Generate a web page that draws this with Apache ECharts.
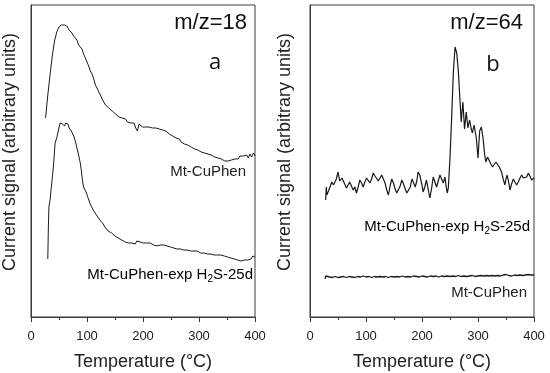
<!DOCTYPE html>
<html>
<head>
<meta charset="utf-8">
<script src="https://cdn.jsdelivr.net/npm/echarts@6/dist/echarts.min.js"></script>
<style>html,body{margin:0;padding:0;background:#fff}#c{width:550px;height:373px}</style>
</head>
<body>
<div id="c"></div>
<script>
// Panel a (m/z=18): Mt-CuPhen
const aTopT = [26,30,34,38,42,46,50,54,57,60,62,64,66,68,70,73,76,79,82,85,88,91,94,97,100,103,106,109,112,115,118,121,124,127,130,133,136,139,142,145,148,151,154,157,160,163,166,169,172,175,178,181,184,187,190,193,196,199,202,205,208,211,214,217,220,223,226,229,232,235,238,241,244,247,250,253,256,259,262,265,268,271,274,277,280,283,286,289,292,295,298,301,304,307,310,313,316,319,322,325,328,331,334,337,340,343,346,349,352,355,358,361,364,367,370,373,376,379,382,385,388,391,394,397,400];
const aTopV = [199,222,242,261,276,285,290,292,294,292,293,291,292,287,286,284,281,279,277,272,270,268,263,259,255,251,246,243,238,232,229,225,222,218,215,212,211,209,208,206,205,203,203,200,199,199,197,198,195,196,194,193,194,189,186,193,191,190,192,190,191,190,192,189,191,189,190,188,189,187,188,186,184,183,184,181,180,179,177,178,175,176,173,174,172,173,170,171,168,169,167,168,165,166,164,165,163,164,162,163,160,161,159,160,158,159,156,157,156,158,157,159,158,160,158,161,159,161,160,162,159,163,160,164,161];
// Panel a: Mt-CuPhen-exp H2S-25d
const aBotT = [30,31,32,34,37,40,43,46,49,52,54,56,58,60,62,64,66,68,70,72,74,77,80,82,85,88,90,92,94,96,99,102,105,108,111,114,117,120,123,126,129,132,135,138,141,144,147,150,153,156,159,162,165,168,171,174,177,180,183,186,189,192,195,198,201,204,207,210,213,216,219,222,225,228,231,234,237,240,243,246,249,252,255,258,261,264,267,270,273,276,279,282,285,288,291,294,297,300,303,306,309,312,315,318,321,324,327,330,333,336,339,342,345,348,351,354,357,360,363,366,369,372,375,378,381,384,387,390,393,396,399,400];
const aBotV = [58,90,110,117,119,150,174,179,187,194,196,193,195,191,194,192,193,189,188,186,187,180,174,169,162,154,146,136,130,129,124,119,114,112,107,106,102,100,97,95,93,90,91,86,85,84,82,81,80,79,78,77,77,75,76,74,75,74,75,73,76,74,75,73,74,73,74,72,74,73,72,73,71,73,72,70,72,70,71,69,70,68,69,67,68,66,68,66,67,65,67,65,66,64,66,64,66,65,64,66,64,65,63,65,63,64,62,64,62,64,62,63,61,62,60,61,59,60,58,59,57,58,56,58,57,59,57,59,58,61,59,60];
// Panel b (m/z=64): Mt-CuPhen-exp H2S-25d
const bTopT = [28,29,30,33,36,39,42,44,47,50,53,55,57,59,62,65,68,71,74,77,80,83,86,89,92,95,98,101,104,107,110,113,116,119,122,125,128,131,134,137,140,143,146,149,152,155,158,161,164,167,170,173,176,179,182,185,188,191,193,196,198,200,202,205,208,211,214,217,220,223,226,229,232,235,238,241,243,245,247,250,253,256,259,262,265,268,270,273,276,279,282,285,288,290,293,297,300,303,306,309,312,314,317,320,323,326,329,332,335,338,342,345,348,350,352,355,357,360,363,366,369,372,375,378,381,384,387,390,393,396,399,400];
const bTopV = [117,130,122,126,128,135,132,134,138,145,136,135,139,137,133,129,132,135,131,127,130,124,130,137,134,130,135,139,138,134,138,144,141,140,136,137,142,138,134,127,122,131,138,134,128,124,124,131,137,133,128,124,122,130,138,134,130,137,145,142,140,132,125,130,137,128,119,128,140,135,130,136,142,138,134,140,131,124,129,159,200,245,270,264,245,215,195,215,188,205,189,197,188,184,192,179,159,186,190,179,162,155,160,158,153,150,149,155,157,150,145,138,132,138,142,134,127,133,138,136,132,135,139,142,139,137,140,144,142,137,135,139];
// Panel b: Mt-CuPhen
const bBotT = [27,28,30,35,40,45,50,55,60,65,70,75,80,85,90,95,100,105,110,115,120,125,130,135,140,145,150,155,160,165,170,175,180,185,190,195,200,205,210,215,220,225,230,235,240,245,250,255,260,265,270,275,280,285,290,295,300,305,310,315,320,325,330,335,340,345,350,355,360,365,370,375,380,385,390,395,400];
const bBotV = [38,41,39,40,39.5,40.5,39.5,40,40.5,39.5,40.5,40,39.5,40.5,40,41,40,40.5,39.5,40.5,40,40.5,40,40.5,39.5,40.5,40,40.5,40,41,40,40.5,40,41,40.5,40,41,40.5,40,41,40.5,41,40,41,40.5,41,40.5,41,40.5,41.5,40.5,41,40.5,41,41.5,40.5,41,41.5,41,41.5,41,41.5,41,41.5,41,42,42.5,41.5,41,42,41.5,42,41.5,42,42.5,42,42];

const xTicks = [0,100,200,300,400];
const pair = (t, v) => t.map((x, i) => [x, v[i]]);

const chart = echarts.init(document.getElementById('c'), null, {renderer: 'canvas'});
const FONT = '"Liberation Sans", Arial, sans-serif';
const axisCol = '#3a3a3a';
function xAx(gi) {
  return {
    gridIndex: gi, type: 'value', min: 0, max: 400, interval: 100,
    name: 'Temperature (°C)', nameLocation: 'middle', nameGap: 36,
    nameTextStyle: {fontFamily: FONT, fontSize: 18, color: '#222'},
    axisLine: {show: true, lineStyle: {color: axisCol, width: 1}},
    axisTick: {show: true, inside: false, length: 5, lineStyle: {color: axisCol}},
    minorTick: {show: true, splitNumber: 2, length: 3, lineStyle: {color: axisCol}},
    axisLabel: {fontFamily: FONT, fontSize: 13, color: '#222', margin: 13,
      formatter: v => xTicks.includes(v) ? String(v) : ''},
    splitLine: {show: false}
  };
}
function yAx(gi) {
  return {
    gridIndex: gi, type: 'value', min: 0, max: 312,
    axisLine: {show: true, lineStyle: {color: axisCol}},
    axisTick: {show: false}, axisLabel: {show: false}, splitLine: {show: false}
  };
}
const lineS = (name, xi, data, w) => ({
  name, type: 'line', xAxisIndex: xi, yAxisIndex: xi, data, showSymbol: false,
  symbol: 'none', lineStyle: {color: '#1a1a1a', width: w}, animation: false
});
const sub = {
  n: {fontFamily: FONT, fontSize: 15, color: '#222'},
  s: {fontFamily: FONT, fontSize: 10, color: '#222', padding: [8, 0, 0, 0]}
};
chart.setOption({
  backgroundColor: '#fff',
  animation: false,
  grid: [
    {left: 31, right: 295, top: 5, bottom: 56, show: true, borderColor: axisCol, borderWidth: 1, containLabel: false, outerBoundsMode: 'none'},
    {left: 310, right: 16, top: 5, bottom: 56, show: true, borderColor: axisCol, borderWidth: 1, containLabel: false, outerBoundsMode: 'none'}
  ],
  xAxis: [xAx(0), xAx(1)],
  yAxis: [yAx(0), yAx(1)],
  series: [
    lineS('Mt-CuPhen', 0, pair(aTopT, aTopV), 1),
    lineS('Mt-CuPhen-exp H2S-25d', 0, pair(aBotT, aBotV), 1),
    lineS('Mt-CuPhen-exp H2S-25d', 1, pair(bTopT, bTopV), 1.2),
    lineS('Mt-CuPhen', 1, pair(bBotT, bBotV), 1.3)
  ],
  graphic: [
    {type: 'text', x: 10, y: 152, rotation: Math.PI / 2,
      style: {text: 'Current signal (arbitrary units)', font: '18px ' + FONT, fill: '#222', align: 'center', verticalAlign: 'middle'}},
    {type: 'text', x: 285, y: 152, rotation: Math.PI / 2,
      style: {text: 'Current signal (arbitrary units)', font: '18px ' + FONT, fill: '#222', align: 'center', verticalAlign: 'middle'}},
    {type: 'text', x: 247, y: 23, style: {text: 'm/z=18', font: '22px ' + FONT, fill: '#111', align: 'right', verticalAlign: 'middle'}},
    {type: 'text', x: 215, y: 63, style: {text: 'a', font: '22px "Open Sans", sans-serif', fill: '#111', align: 'center', verticalAlign: 'middle'}},
    {type: 'text', x: 523, y: 23, style: {text: 'm/z=64', font: '22px ' + FONT, fill: '#111', align: 'right', verticalAlign: 'middle'}},
    {type: 'text', x: 493, y: 65, style: {text: 'b', font: '22px "Open Sans", sans-serif', fill: '#111', align: 'center', verticalAlign: 'middle'}},
    {type: 'text', x: 246, y: 172, style: {text: 'Mt-CuPhen', font: '15px ' + FONT, fill: '#222', align: 'right', verticalAlign: 'middle'}},
    {type: 'text', x: 253, y: 275, style: {text: '{n|Mt-CuPhen-exp H}{s|2}{n|S-25d}', rich: sub, align: 'right', verticalAlign: 'middle'}},
    {type: 'text', x: 530, y: 227, style: {text: '{n|Mt-CuPhen-exp H}{s|2}{n|S-25d}', rich: sub, align: 'right', verticalAlign: 'middle'}},
    {type: 'text', x: 527, y: 293, style: {text: 'Mt-CuPhen', font: '15px ' + FONT, fill: '#222', align: 'right', verticalAlign: 'middle'}}
  ]
});
</script>
</body>
</html>
